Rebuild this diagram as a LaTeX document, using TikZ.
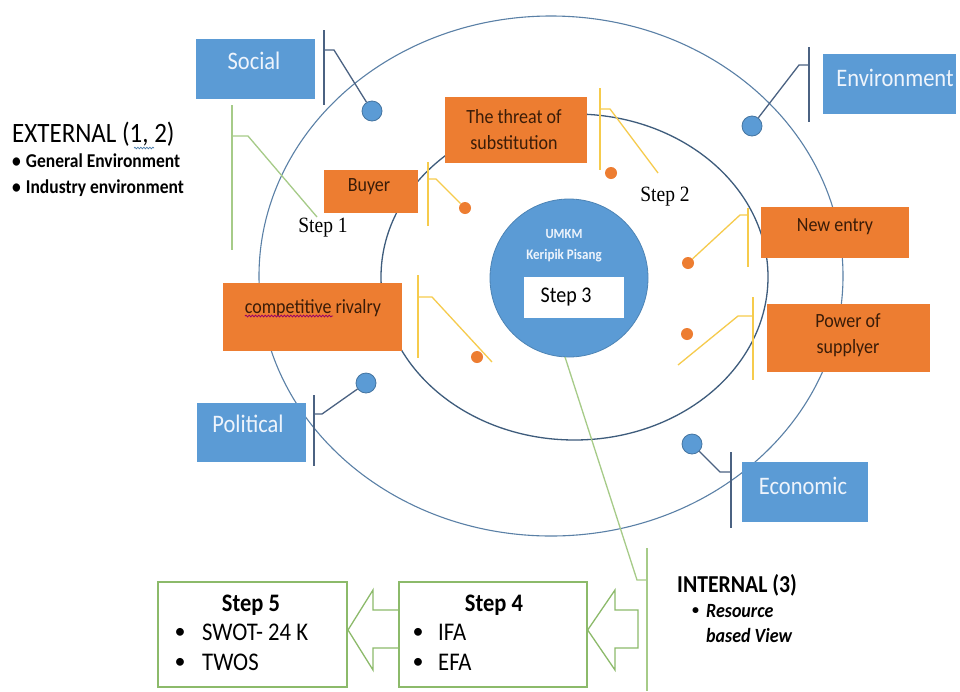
\documentclass[tikz,border=0pt]{standalone}
\usepackage{fontspec}
\setmainfont{Carlito}
\newfontfamily\timesf{Liberation Serif}
\usetikzlibrary{shapes.geometric,decorations.pathmorphing}
\definecolor{cblue}{HTML}{5B9BD5}
\definecolor{corange}{HTML}{ED7D31}
\definecolor{ellO}{HTML}{5A80A6}
\definecolor{ellI}{HTML}{3E5C7C}
\definecolor{cline}{HTML}{4B6282}
\definecolor{cyel}{HTML}{F6CB4C}
\definecolor{cgreen}{HTML}{A6CB88}
\definecolor{cgbox}{HTML}{8CBA6A}
\definecolor{otext}{HTML}{3A1C08}
\definecolor{btext}{HTML}{EEF4FC}
\newcommand\fsz[2]{\fontsize{#1}{#2}\selectfont}
\newcommand\T[1]{\scalebox{1}[1.12]{#1}}
\begin{document}
\begin{tikzpicture}[x=1pt,y=-1pt,
  bluebox/.style={rectangle,fill=cblue,inner sep=0},
  bluetext/.style={text=btext,font=\fsz{22.5}{26},inner sep=0},
  orbox/.style={rectangle,fill=corange,inner sep=0},
  ortext/.style={text=otext,font=\fsz{18}{26},align=center,inner sep=0},
  bdot/.style={circle,fill=cblue,draw=cblue!75!black,line width=0.8,minimum size=20,inner sep=0},
  odot/.style={circle,fill=corange,minimum size=12,inner sep=0},
  bline/.style={draw=cline,line width=1.3},
  yline/.style={draw=cyel,line width=1.3},
  gline/.style={draw=cgreen,line width=1.3},
  gbox/.style={rectangle,draw=cgbox,line width=1.3,fill=white,inner sep=0},
  plain/.style={inner sep=0,text=black}
]
\useasboundingbox (0,0) rectangle (960,691);
\fill[white] (0,0) rectangle (960,691);

% ellipses
\node[ellipse,draw=ellO,line width=1.1,minimum width=584,minimum height=520,inner sep=0] (outer) at (551,276) {};
\node[ellipse,draw=ellI,line width=1.3,minimum width=387,minimum height=326,inner sep=0] (inner) at (574.5,277) {};

% green callouts
\coordinate (g1a) at (232,105); \coordinate (g1b) at (232,250);
\coordinate (g1c) at (232,136); \coordinate (g1d) at (248,136); \coordinate (g1e) at (317,217);
\draw[gline] (g1a) -- (g1b);
\draw[gline] (g1c) -- (g1d) -- (g1e);
\coordinate (g2a) at (647,548); \coordinate (g2b) at (647,691);
\coordinate (g2c) at (637,580); \coordinate (g2d) at (647,580);
\draw[gline] (g2a) -- (g2b);

% central circle
\node[circle,fill=cblue,draw=cblue!85!black,line width=0.8,minimum size=158,inner sep=0] (core) at (569,278) {};
\coordinate (coreS) at (565,357);
\draw[gline] (coreS) -- (g2c) -- (g2d);
\node[plain,text=btext,font=\bfseries\fsz{12.5}{14}] (umkm) at (564,234) {\T{UMKM}};
\node[plain,text=btext,font=\bfseries\fsz{13}{15}] (keripik) at (564,256) {\T{Keripik Pisang}};
\node[rectangle,fill=white,minimum width=100,minimum height=41,inner sep=0] (s3box) at (574,297.5) {};
\node[plain,font=\fsz{20}{23}] (s3) at (566,297) {\T{Step 3}};

% blue callouts
\node[bdot] (dsoc) at (372,111) {};
\node[bdot] (denv) at (752,126) {};
\node[bdot] (dpol) at (366,383) {};
\node[bdot] (deco) at (692,444) {};
\coordinate (b1a) at (324,30); \coordinate (b1b) at (324,105); \coordinate (b1c) at (324,50); \coordinate (b1d) at (334,50);
\draw[bline] (b1a) -- (b1b); \draw[bline] (b1c) -- (b1d) -- (dsoc);
\coordinate (b2a) at (809,47); \coordinate (b2b) at (809,122); \coordinate (b2c) at (809,65); \coordinate (b2d) at (799,65);
\draw[bline] (b2a) -- (b2b); \draw[bline] (b2c) -- (b2d) -- (denv);
\coordinate (b3a) at (314,395); \coordinate (b3b) at (314,466); \coordinate (b3c) at (314,414); \coordinate (b3d) at (322,414);
\draw[bline] (b3a) -- (b3b); \draw[bline] (b3c) -- (b3d) -- (dpol);
\coordinate (b4a) at (731,452); \coordinate (b4b) at (731,528); \coordinate (b4c) at (731,472); \coordinate (b4d) at (720,472);
\draw[bline] (b4a) -- (b4b); \draw[bline] (b4c) -- (b4d) -- (deco);

% yellow callouts
\node[odot] (othr) at (611,173) {};
\node[odot] (obuy) at (465,208) {};
\node[odot] (oriv) at (477,357) {};
\node[odot] (onew) at (688,263) {};
\node[odot] (opow) at (687,334) {};
\coordinate (y1a) at (600,88); \coordinate (y1b) at (600,170); \coordinate (y1c) at (600,109); \coordinate (y1d) at (610,109); \coordinate (y1e) at (658,173);
\draw[yline] (y1a) -- (y1b); \draw[yline] (y1c) -- (y1d) -- (y1e);
\coordinate (y2a) at (428,162); \coordinate (y2b) at (428,226); \coordinate (y2c) at (428,179); \coordinate (y2d) at (436,179);
\draw[yline] (y2a) -- (y2b); \draw[yline] (y2c) -- (y2d) -- (obuy);
\coordinate (y3a) at (418,275); \coordinate (y3b) at (418,358); \coordinate (y3c) at (418,297); \coordinate (y3d) at (432,297); \coordinate (y3e) at (492,362);
\draw[yline] (y3a) -- (y3b); \draw[yline] (y3c) -- (y3d) -- (y3e);
\coordinate (y4a) at (748,208); \coordinate (y4b) at (748,267); \coordinate (y4c) at (748,215); \coordinate (y4d) at (740,215);
\draw[yline] (y4a) -- (y4b); \draw[yline] (y4c) -- (y4d) -- (onew);
\coordinate (y5a) at (753,297); \coordinate (y5b) at (753,380); \coordinate (y5c) at (753,316); \coordinate (y5d) at (738,316); \coordinate (y5e) at (678,365);
\draw[yline] (y5a) -- (y5b); \draw[yline] (y5c) -- (y5d) -- (y5e);

% blue boxes
\node[bluebox,minimum width=119,minimum height=60] (social) at (255.5,69) {};
\node[bluetext] (socialT) at (254,61) {\T{Social}};
\node[bluebox,minimum width=133,minimum height=60] (env) at (889.5,84) {};
\node[bluetext] (envT) at (895,78) {\T{Environment}};
\node[bluebox,minimum width=109,minimum height=59] (pol) at (251.5,432.5) {};
\node[bluetext] (polT) at (248,424) {\T{Political}};
\node[bluebox,minimum width=126,minimum height=60] (eco) at (805,492) {};
\node[bluetext] (ecoT) at (803,486) {\T{Economic}};

% orange boxes
\node[orbox,minimum width=142,minimum height=66] (thr) at (516,130) {};
\node[ortext] (thrT) at (514,130) {\T{The threat of}\\\T{substitution}};
\node[orbox,minimum width=94,minimum height=43] (buy) at (371,191.5) {};
\node[ortext] (buyT) at (369,187) {\T{Buyer}};
\node[orbox,minimum width=179,minimum height=68] (riv) at (312.5,317) {};
\node[ortext] (rivT) at (313,308) {\T{competitive rivalry}};
\draw[decorate,decoration={snake,amplitude=0.9,segment length=3.2},draw=violet!80!red,line width=0.8] (245,316) -- (333,316);
\node[orbox,minimum width=148,minimum height=51] (new) at (835,232.5) {};
\node[ortext] (newT) at (835,227) {\T{New entry}};
\node[orbox,minimum width=163,minimum height=68] (pow) at (848.5,338) {};
\node[ortext] (powT) at (848,335) {\T{Power of}\\\T{supplyer}};

% step labels
\node[plain,font=\timesf\fsz{19.5}{22}] (st1) at (323,228) {\T{Step 1}};
\node[plain,font=\timesf\fsz{19.5}{22}] (st2) at (665,197) {\T{Step 2}};

% EXTERNAL
\node[plain,anchor=west,font=\fsz{25}{28}] (ext) at (12,134) {\T{EXTERNAL (1, 2)}};
\draw[decorate,decoration={snake,amplitude=0.8,segment length=3},draw=cblue!80!black,line width=0.7] (134,148) -- (154,148);
\node[plain,anchor=west,font=\bfseries\fsz{17.5}{20}] (extb1) at (12,161) {\T{•\hspace{5pt}General Environment}};
\node[plain,anchor=west,font=\bfseries\fsz{17.5}{20}] (extb2) at (12,188) {\T{•\hspace{5pt}Industry environment}};

% INTERNAL
\node[plain,anchor=west,font=\bfseries\fsz{21.7}{24}] (int) at (677,585) {\T{INTERNAL (3)}};
\node[plain,anchor=west,font=\bfseries\fsz{14}{16}] (intbul) at (692,611) {•};
\node[plain,anchor=west,font=\bfseries\itshape\fsz{18}{20}] (intb1) at (706,611) {\T{Resource}};
\node[plain,anchor=west,font=\bfseries\itshape\fsz{18}{20}] (intb2) at (706,635) {\T{based View}};

% bottom boxes
\node[gbox,minimum width=189,minimum height=105] (s5) at (252.5,634.5) {};
\node[plain,font=\bfseries\fsz{22.5}{26}] (s5T) at (251,605) {\T{Step 5}};
\node[plain,font=\fsz{22}{24}] (s5b1) at (180,633) {•};
\node[plain,anchor=west,font=\fsz{22.7}{26}] (s5l1) at (202,632) {\T{SWOT- 24 K}};
\node[plain,font=\fsz{22}{24}] (s5b2) at (180,663) {•};
\node[plain,anchor=west,font=\fsz{22.7}{26}] (s5l2) at (202,662) {\T{TWOS}};

\node[gbox,minimum width=188,minimum height=105] (s4) at (493,634.5) {};
\node[plain,font=\bfseries\fsz{22.5}{26}] (s4T) at (494,605) {\T{Step 4}};
\node[plain,font=\fsz{22}{24}] (s4b1) at (418,633) {•};
\node[plain,anchor=west,font=\fsz{22.7}{26}] (s4l1) at (438,632) {\T{IFA}};
\node[plain,font=\fsz{22}{24}] (s4b2) at (418,663) {•};
\node[plain,anchor=west,font=\fsz{22.7}{26}] (s4l2) at (438,662) {\T{EFA}};

% hollow arrows
\draw[draw=cgbox,line width=1.3,line join=miter] (s4.west |- 0,610) -- (373,610) -- (373,590) -- (348,630) -- (373,670) -- (373,648) -- (s4.west |- 0,648);
\draw[draw=cgbox,line width=1.3,line join=miter] (638,610) -- (615,610) -- (615,590) -- (s4.east |- 0,630) -- (615,670) -- (615,648) -- (638,648) -- cycle;
\end{tikzpicture}
\end{document}
